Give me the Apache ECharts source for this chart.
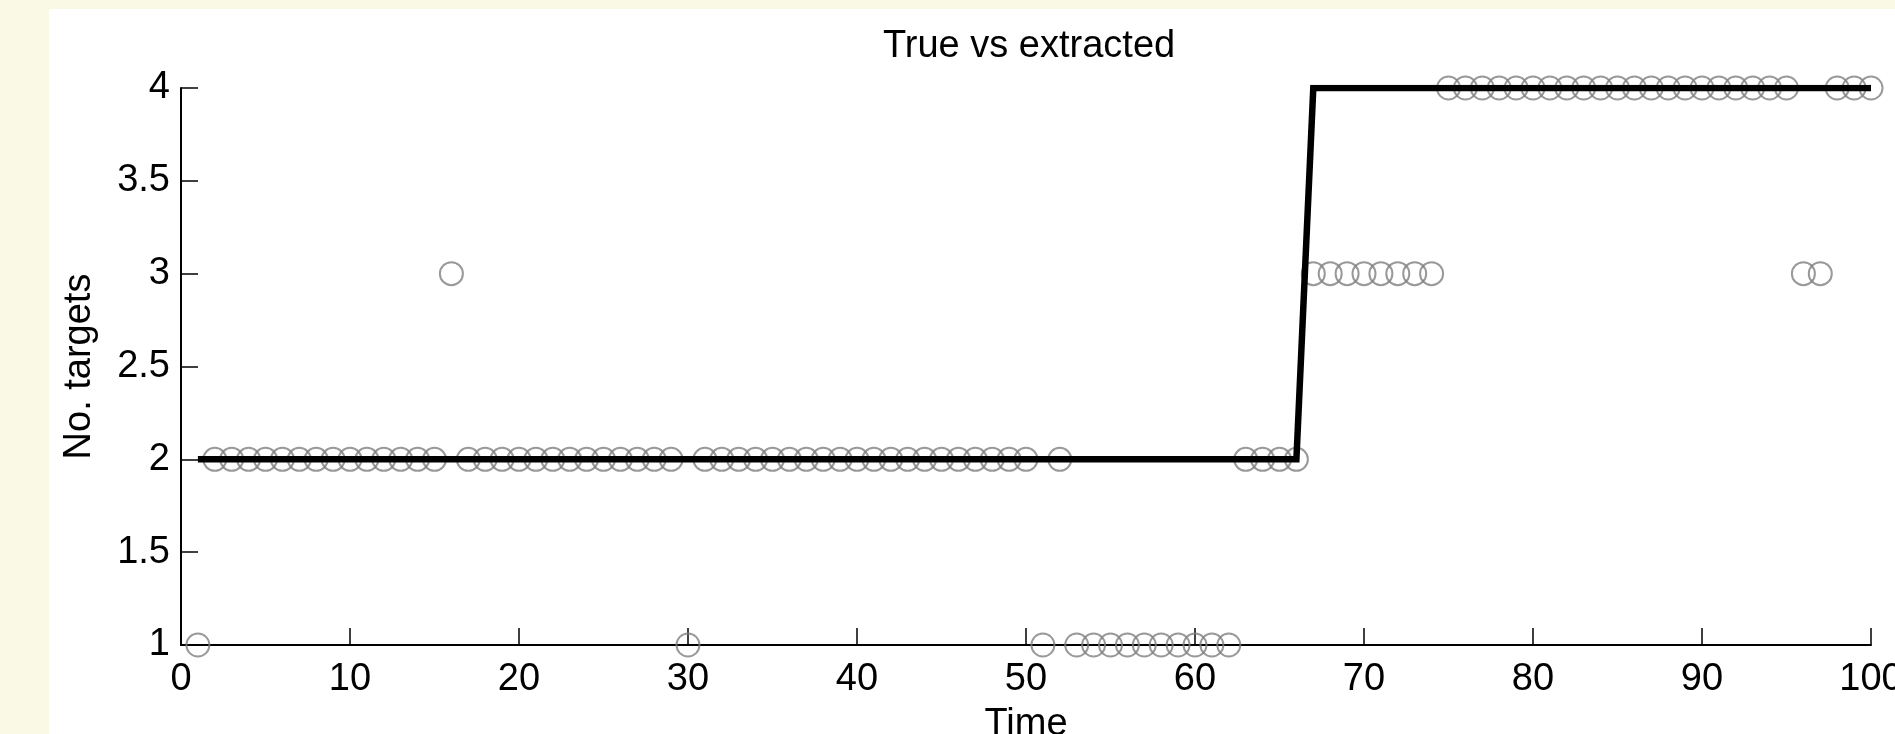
<!DOCTYPE html>
<html>
<head>
    <meta http-equiv="Content-Type" content="text/html; charset=utf-8" />
    <title>True vs extracted</title>
    <script src="https://cdn.jsdelivr.net/npm/echarts@6/dist/echarts.min.js"></script>
    <style>
        html, body { margin: 0; padding: 0; background: #fff; }
        #container { width: 1895px; height: 734px; }
    </style>
</head>
<body>
    <div id="container"></div>
</body>
</html>
<script>
    // time steps
    var time = [
        1, 2, 3, 4, 5, 6, 7, 8, 9, 10,
        11, 12, 13, 14, 15, 16, 17, 18, 19, 20,
        21, 22, 23, 24, 25, 26, 27, 28, 29, 30,
        31, 32, 33, 34, 35, 36, 37, 38, 39, 40,
        41, 42, 43, 44, 45, 46, 47, 48, 49, 50,
        51, 52, 53, 54, 55, 56, 57, 58, 59, 60,
        61, 62, 63, 64, 65, 66, 67, 68, 69, 70,
        71, 72, 73, 74, 75, 76, 77, 78, 79, 80,
        81, 82, 83, 84, 85, 86, 87, 88, 89, 90,
        91, 92, 93, 94, 95, 96, 97, 98, 99, 100
    ];
    // true number of targets (black line)
    var trueCount = [
        2, 2, 2, 2, 2, 2, 2, 2, 2, 2,
        2, 2, 2, 2, 2, 2, 2, 2, 2, 2,
        2, 2, 2, 2, 2, 2, 2, 2, 2, 2,
        2, 2, 2, 2, 2, 2, 2, 2, 2, 2,
        2, 2, 2, 2, 2, 2, 2, 2, 2, 2,
        2, 2, 2, 2, 2, 2, 2, 2, 2, 2,
        2, 2, 2, 2, 2, 2, 4, 4, 4, 4,
        4, 4, 4, 4, 4, 4, 4, 4, 4, 4,
        4, 4, 4, 4, 4, 4, 4, 4, 4, 4,
        4, 4, 4, 4, 4, 4, 4, 4, 4, 4
    ];
    // extracted number of targets (circles)
    var extractedCount = [
        1, 2, 2, 2, 2, 2, 2, 2, 2, 2,
        2, 2, 2, 2, 2, 3, 2, 2, 2, 2,
        2, 2, 2, 2, 2, 2, 2, 2, 2, 1,
        2, 2, 2, 2, 2, 2, 2, 2, 2, 2,
        2, 2, 2, 2, 2, 2, 2, 2, 2, 2,
        1, 2, 1, 1, 1, 1, 1, 1, 1, 1,
        1, 1, 2, 2, 2, 2, 3, 3, 3, 3,
        3, 3, 3, 3, 4, 4, 4, 4, 4, 4,
        4, 4, 4, 4, 4, 4, 4, 4, 4, 4,
        4, 4, 4, 4, 4, 3, 3, 4, 4, 4
    ];

    var fontName = "Liberation Sans";
    var fontSize = 38;
    var dom = document.getElementById("container");
    var myChart = echarts.init(dom, null, { renderer: 'canvas' });

    var linePts = [], dotPts = [];
    for (var i = 0; i < time.length; i++) {
        linePts.push([time[i], trueCount[i]]);
        dotPts.push([time[i], extractedCount[i]]);
    }

    var option = {
        backgroundColor: '#ffffff',
        animation: false,
        graphic: [
            { type: 'rect', left: 0, top: 0, z: -10, shape: { width: 49, height: 734 }, style: { fill: '#FAF9E6' } },
            { type: 'rect', left: 0, top: 0, z: -10, shape: { width: 1895, height: 9 }, style: { fill: '#FAF9E6' } },
            {
                type: 'text', left: 883, top: 28,
                style: { text: 'True vs extracted', fill: '#000', font: fontSize + 'px "Liberation Sans"' }
            }
        ],
        grid: { left: 181, right: 24, top: 88, bottom: 89, outerBoundsMode: 'none', containLabel: false },
        xAxis: {
            type: 'value', min: 0, max: 100, interval: 10,
            name: 'Time', nameLocation: 'middle', nameGap: 61,
            nameTextStyle: { color: '#000', fontSize: fontSize, fontFamily: fontName },
            axisLine: { show: true, lineStyle: { color: '#000', width: 2 } },
            axisTick: { show: true, inside: true, length: 17, lineStyle: { color: '#000', width: 1.5 } },
            axisLabel: { color: '#000', fontSize: fontSize, fontFamily: fontName, margin: 16 },
            splitLine: { show: false }
        },
        yAxis: {
            type: 'value', min: 1, max: 4, interval: 0.5,
            name: 'No. targets', nameLocation: 'middle', nameGap: 82,
            nameTextStyle: { color: '#000', fontSize: fontSize, fontFamily: fontName },
            axisLine: { show: true, lineStyle: { color: '#000', width: 2 } },
            axisTick: { show: true, inside: true, length: 17, lineStyle: { color: '#000', width: 1.5 } },
            axisLabel: { color: '#000', fontSize: fontSize, fontFamily: fontName, margin: 11 },
            splitLine: { show: false }
        },
        series: [
            {
                name: 'extracted', type: 'scatter', data: dotPts,
                symbol: 'circle', symbolSize: 23, z: 2,
                itemStyle: { color: 'rgba(0,0,0,0)', borderColor: '#808080', borderWidth: 2 }
            },
            {
                name: 'true', type: 'line', data: linePts, showSymbol: false, symbol: 'none', z: 3,
                lineStyle: { color: '#000', width: 6.5, join: 'miter', cap: 'butt' }
            }
        ]
    };
    myChart.setOption(option);
</script>
